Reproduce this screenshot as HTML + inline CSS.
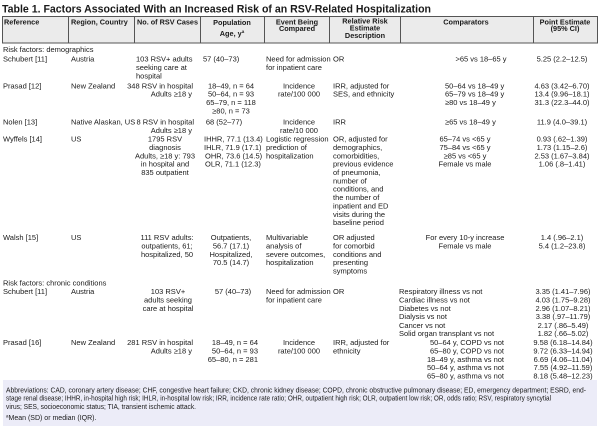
<!DOCTYPE html>
<html>
<head>
<meta charset="utf-8">
<style>
html,body{margin:0;padding:0;background:#fff;}
svg{display:block;}
text{font-family:"Liberation Sans",Arial,sans-serif;fill:#1a1a1a;}
.b{font-size:7.5px;}
.h{font-size:7.3px;font-weight:bold;}
.m{text-anchor:middle;}
.e{text-anchor:end;}
.f{font-size:7px;}
</style>
</head>
<body>
<svg width="600" height="436" viewBox="0 0 600 436" xmlns="http://www.w3.org/2000/svg">
<rect x="0" y="0" width="600" height="436" fill="#fff"/>
<text x="2" y="12.5" style="font-size:11px;font-weight:bold" textLength="429" lengthAdjust="spacingAndGlyphs">Table 1. Factors Associated With an Increased Risk of an RSV-Related Hospitalization</text>

<!-- header -->
<rect x="2.5" y="16.5" width="595" height="26.5" fill="#ebebeb" stroke="#555" stroke-width="1"/>
<g stroke="#555" stroke-width="1">
<line x1="68.5" y1="16.5" x2="68.5" y2="43"/>
<line x1="134.5" y1="16.5" x2="134.5" y2="43"/>
<line x1="200.5" y1="16.5" x2="200.5" y2="43"/>
<line x1="264.5" y1="16.5" x2="264.5" y2="43"/>
<line x1="329.5" y1="16.5" x2="329.5" y2="43"/>
<line x1="400.5" y1="16.5" x2="400.5" y2="43"/>
<line x1="533.5" y1="16.5" x2="533.5" y2="43"/>
</g>
<text class="h" x="4" y="24.5">Reference</text>
<text class="h" x="71" y="24.5">Region, Country</text>
<text class="h" x="137" y="24.5" textLength="61" lengthAdjust="spacingAndGlyphs">No. of RSV Cases</text>
<text class="h m" x="232" y="25">Population</text>
<text class="h m" x="232" y="36">Age, y<tspan style="font-size:4.5px" dy="-3">a</tspan></text>
<text class="h m" x="297" y="24.5">Event Being</text>
<text class="h m" x="297" y="31">Compared</text>
<text class="h m" x="365" y="23.5">Relative Risk</text>
<text class="h m" x="365" y="30.5">Estimate</text>
<text class="h m" x="365" y="38">Description</text>
<text class="h m" x="466" y="24.5">Comparators</text>
<text class="h m" x="565" y="24.5">Point Estimate</text>
<text class="h m" x="565" y="31">(95% CI)</text>

<!-- demographics -->
<text class="b" x="3" y="52">Risk factors: demographics</text>

<text class="b" x="3" y="61.5">Schubert [11]</text>
<text class="b" x="71" y="61.5">Austria</text>
<text class="b" x="136" y="61.5">103 RSV+ adults</text>
<text class="b" x="136" y="70">seeking care at</text>
<text class="b" x="136" y="78.3">hospital</text>
<text class="b" x="203" y="61.5">57 (40–73)</text>
<text class="b" x="266" y="61.5">Need for admission</text>
<text class="b" x="266" y="70">for inpatient care</text>
<text class="b" x="333" y="61.5">OR</text>
<text class="b m" x="481" y="61.5">&gt;65 vs 18–65 y</text>
<text class="b m" x="562" y="61.5">5.25 (2.2–12.5)</text>

<text class="b" x="3" y="88.3">Prasad [12]</text>
<text class="b" x="71" y="88.3">New Zealand</text>
<text class="b e" x="193" y="88.3">348 RSV in hospital</text>
<text class="b e" x="192" y="96.6">Adults ≥18 y</text>
<text class="b m" x="231" y="88.3">18–49, n = 64</text>
<text class="b m" x="231" y="96.6">50–64, n = 93</text>
<text class="b m" x="231" y="105">65–79, n = 118</text>
<text class="b m" x="231" y="113.4">≥80, n = 73</text>
<text class="b m" x="299" y="88.3">Incidence</text>
<text class="b m" x="299" y="96.6">rate/100 000</text>
<text class="b" x="333" y="88.3">IRR, adjusted for</text>
<text class="b" x="333" y="96.6">SES, and ethnicity</text>
<text class="b" x="445" y="88.3">50–64 vs 18–49 y</text>
<text class="b" x="445" y="96.6">65–79 vs 18–49 y</text>
<text class="b" x="445" y="105">≥80 vs 18–49 y</text>
<text class="b m" x="562" y="88.3">4.63 (3.42–6.70)</text>
<text class="b m" x="562" y="96.6">13.4 (9.96–18.1)</text>
<text class="b m" x="562" y="105">31.3 (22.3–44.0)</text>

<text class="b" x="3" y="124.5">Nolen [13]</text>
<text class="b" x="71" y="124.5">Native Alaskan, US</text>
<text class="b e" x="194" y="124.5">8 RSV in hospital</text>
<text class="b e" x="192" y="133">Adults ≥18 y</text>
<text class="b m" x="224" y="124.5">68 (52–77)</text>
<text class="b m" x="299" y="124.5">Incidence</text>
<text class="b m" x="299" y="133">rate/10 000</text>
<text class="b" x="333" y="124.5">IRR</text>
<text class="b" x="445" y="124.5">≥65 vs 18–49 y</text>
<text class="b m" x="562" y="124.5">11.9 (4.0–39.1)</text>

<text class="b" x="3" y="141.7">Wyffels [14]</text>
<text class="b" x="71" y="141.7">US</text>
<text class="b m" x="165" y="141.7">1795 RSV</text>
<text class="b m" x="165" y="150">diagnosis</text>
<text class="b m" x="165" y="158.3">Adults, ≥18 y: 793</text>
<text class="b m" x="165" y="166.7">in hospital and</text>
<text class="b m" x="165" y="175">835 outpatient</text>
<text class="b" x="204" y="141.7">IHHR, 77.1 (13.4)</text>
<text class="b" x="204" y="150">IHLR, 71.9 (17.1)</text>
<text class="b" x="205" y="158.3">OHR, 73.6 (14.5)</text>
<text class="b" x="205" y="166.7">OLR, 71.1 (12.3)</text>
<text class="b" x="266" y="141.7">Logistic regression</text>
<text class="b" x="266" y="150">prediction of</text>
<text class="b" x="266" y="158.3">hospitalization</text>
<text class="b" x="333" y="141.7">OR, adjusted for</text>
<text class="b" x="333" y="150">demographics,</text>
<text class="b" x="333" y="158.3">comorbidities,</text>
<text class="b" x="333" y="166.7">previous evidence</text>
<text class="b" x="333" y="175">of pneumonia,</text>
<text class="b" x="333" y="183.4">number of</text>
<text class="b" x="333" y="191.7">conditions, and</text>
<text class="b" x="333" y="200.1">the number of</text>
<text class="b" x="333" y="208.4">inpatient and ED</text>
<text class="b" x="333" y="216.8">visits during the</text>
<text class="b" x="333" y="225.2">baseline period</text>
<text class="b m" x="465" y="141.7">65–74 vs &lt;65 y</text>
<text class="b m" x="465" y="150">75–84 vs &lt;65 y</text>
<text class="b m" x="465" y="158.3">≥85 vs &lt;65 y</text>
<text class="b m" x="465" y="166.7">Female vs male</text>
<text class="b m" x="562" y="141.7">0.93 (.62–1.39)</text>
<text class="b m" x="562" y="150">1.73 (1.15–2.6)</text>
<text class="b m" x="562" y="158.3">2.53 (1.67–3.84)</text>
<text class="b m" x="562" y="166.7">1.06 (.8–1.41)</text>

<text class="b" x="3" y="240">Walsh [15]</text>
<text class="b" x="71" y="240">US</text>
<text class="b m" x="167" y="240">111 RSV adults:</text>
<text class="b m" x="167" y="248.4">outpatients, 61;</text>
<text class="b m" x="167" y="256.8">hospitalized, 50</text>
<text class="b m" x="231" y="240">Outpatients,</text>
<text class="b m" x="231" y="248.4">56.7 (17.1)</text>
<text class="b m" x="231" y="256.8">Hospitalized,</text>
<text class="b m" x="231" y="265.2">70.5 (14.7)</text>
<text class="b" x="266" y="240">Multivariable</text>
<text class="b" x="266" y="248.4">analysis of</text>
<text class="b" x="266" y="256.8">severe outcomes,</text>
<text class="b" x="266" y="265.2">hospitalization</text>
<text class="b" x="333" y="240">OR adjusted</text>
<text class="b" x="333" y="248.4">for comorbid</text>
<text class="b" x="333" y="256.8">conditions and</text>
<text class="b" x="333" y="265.2">presenting</text>
<text class="b" x="333" y="273.6">symptoms</text>
<text class="b m" x="465" y="240">For every 10-y increase</text>
<text class="b m" x="465" y="248.4">Female vs male</text>
<text class="b m" x="562" y="240">1.4 (.96–2.1)</text>
<text class="b m" x="562" y="248.4">5.4 (1.2–23.8)</text>

<!-- chronic -->
<text class="b" x="3" y="285.7">Risk factors: chronic conditions</text>

<text class="b" x="3" y="294">Schubert [11]</text>
<text class="b" x="71" y="294">Austria</text>
<text class="b m" x="168" y="294">103 RSV+</text>
<text class="b m" x="168" y="302.4">adults seeking</text>
<text class="b m" x="168" y="310.8">care at hospital</text>
<text class="b m" x="233" y="294">57 (40–73)</text>
<text class="b" x="266" y="294">Need for admission</text>
<text class="b" x="266" y="302.4">for inpatient care</text>
<text class="b" x="333" y="294">OR</text>
<text class="b" x="399" y="294">Respiratory illness vs not</text>
<text class="b" x="399" y="302.4">Cardiac illness vs not</text>
<text class="b" x="399" y="310.8">Diabetes vs not</text>
<text class="b" x="399" y="319.2">Dialysis vs not</text>
<text class="b" x="399" y="327.8">Cancer vs not</text>
<text class="b" x="399" y="336.2">Solid organ transplant vs not</text>
<text class="b m" x="563" y="294">3.35 (1.41–7.96)</text>
<text class="b m" x="563" y="302.4">4.03 (1.75–9.28)</text>
<text class="b m" x="563" y="310.8">2.96 (1.07–8.21)</text>
<text class="b m" x="563" y="319.2">3.38 (.97–11.79)</text>
<text class="b m" x="563" y="327.8">2.17 (.86–5.49)</text>
<text class="b m" x="563" y="336.2">1.82 (.66–5.02)</text>

<text class="b" x="3" y="345">Prasad [16]</text>
<text class="b" x="71" y="345">New Zealand</text>
<text class="b e" x="193" y="345">281 RSV in hospital</text>
<text class="b e" x="192" y="353.4">Adults ≥18 y</text>
<text class="b e" x="258" y="345">18–49, n = 64</text>
<text class="b e" x="258" y="353.4">50–64, n = 93</text>
<text class="b e" x="258" y="361.8">65–80, n = 281</text>
<text class="b m" x="299" y="345">Incidence</text>
<text class="b m" x="299" y="353.4">rate/100 000</text>
<text class="b" x="333" y="345">IRR, adjusted for</text>
<text class="b" x="333" y="353.4">ethnicity</text>
<text class="b e" x="504" y="345">50–64 y, COPD vs not</text>
<text class="b e" x="504" y="353.4">65–80 y, COPD vs not</text>
<text class="b e" x="504" y="361.8">18–49 y, asthma vs not</text>
<text class="b e" x="504" y="370.2">50–64 y, asthma vs not</text>
<text class="b e" x="504" y="378.6">65–80 y, asthma vs not</text>
<text class="b m" x="563" y="345">9.58 (6.18–14.84)</text>
<text class="b m" x="563" y="353.4">9.72 (6.33–14.94)</text>
<text class="b m" x="563" y="361.8">6.69 (4.06–11.04)</text>
<text class="b m" x="563" y="370.2">7.55 (4.92–11.59)</text>
<text class="b m" x="563" y="378.6">8.18 (5.48–12.23)</text>

<!-- footnote -->
<rect x="3" y="380" width="594" height="46" fill="#ececf8"/>
<text class="f" x="6" y="392.3" textLength="580" lengthAdjust="spacingAndGlyphs">Abbreviations: CAD, coronary artery disease; CHF, congestive heart failure; CKD, chronic kidney disease; COPD, chronic obstructive pulmonary disease; ED, emergency department; ESRD, end-</text>
<text class="f" x="6" y="400.7" textLength="545" lengthAdjust="spacingAndGlyphs">stage renal disease; IHHR, in-hospital high risk; IHLR, in-hospital low risk; IRR, incidence rate ratio; OHR, outpatient high risk; OLR, outpatient low risk; OR, odds ratio; RSV, respiratory syncytial</text>
<text class="f" x="6" y="409" textLength="190" lengthAdjust="spacingAndGlyphs">virus; SES, socioeconomic status; TIA, transient ischemic attack.</text>
<text class="f" x="6" y="420"><tspan style="font-size:4.5px" dy="-2.5">a</tspan><tspan dy="2.5">Mean (SD) or median (IQR).</tspan></text>
</svg>
</body>
</html>
